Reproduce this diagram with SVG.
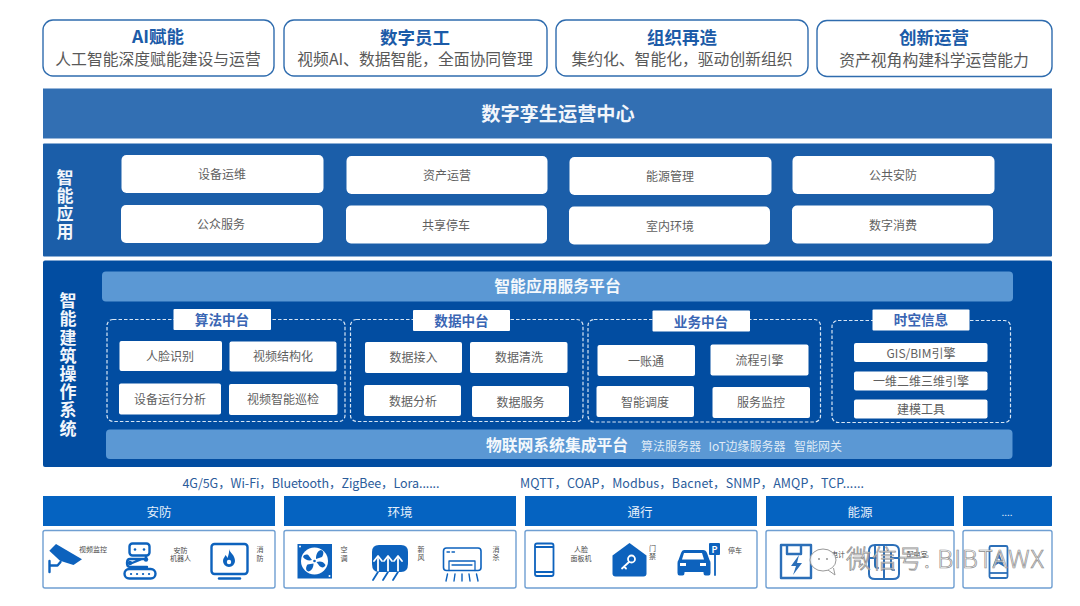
<svg xmlns="http://www.w3.org/2000/svg" width="1080" height="606" viewBox="0 0 1080 606">
<defs>
<style>
text{font-family:"Noto Sans CJK SC","Noto Sans",sans-serif;text-anchor:middle;dominant-baseline:central;transform:translateY(-1px)}
.top{fill:#fff;stroke:#2f6cae;stroke-width:1.4}
.tt{font-size:17.5px;font-weight:700;fill:#1b5ba8}
.ts{font-size:15.8px;fill:#595959}
.tile{fill:#fff}
.t1{font-size:12px;fill:#5f5f5f}
.dash{fill:none;stroke:#d8e6f5;stroke-width:1.2;stroke-dasharray:3.5 2}
.lab{font-size:13.6px;font-weight:700;fill:#3a66b4}
.bar{fill:#5b98d4}
.bt{font-size:15.8px;font-weight:700;fill:#f4f8fc}
.bs{font-size:12px;fill:#dfeaf6}
.vt{font-size:17px;font-weight:700;fill:#f2f6fb;writing-mode:vertical-rl;letter-spacing:1.2px;transform:none}
.pr{font-size:12.5px;fill:#2b5c9b}
.hd{fill:#0563c1}
.ht{font-size:12.5px;fill:#e6effa}
.box{fill:#fff;stroke:#6f9fd2;stroke-width:1.4}
.sm{font-size:7px;fill:#4a4a4a}
.ib{fill:#0d62bd}
.il{fill:none;stroke:#0d62bd;stroke-width:2.4;stroke-linecap:round;stroke-linejoin:round}
.iw{fill:none;stroke:#fff;stroke-width:1.8;stroke-linecap:round;stroke-linejoin:round}
</style>
</defs>
<rect width="1080" height="606" fill="#fff"/>

<g id="top-ai"><rect class="top" x="43" y="20" width="231" height="56" rx="10"/><text class="tt" x="158" y="36.5">AI赋能</text><text class="ts" x="158" y="59">人工智能深度赋能建设与运营</text></g>
<g id="top-staff"><rect class="top" x="284" y="20" width="263" height="56" rx="10"/><text class="tt" x="415" y="37">数字员工</text><text class="ts" x="415" y="59">视频AI、数据智能，全面协同管理</text></g>
<g id="top-org"><rect class="top" x="556" y="20" width="252" height="56" rx="10"/><text class="tt" x="682" y="37">组织再造</text><text class="ts" x="682" y="59">集约化、智能化，驱动创新组织</text></g>
<g id="top-ops"><rect class="top" x="817" y="20.500" width="235" height="56" rx="10"/><text class="tt" x="934" y="37">创新运营</text><text class="ts" x="934" y="60">资产视角构建科学运营能力</text></g>

<g id="twin"><rect x="43" y="88.500" width="1009" height="50" fill="#326fb3"/><text x="558" y="114" font-size="19.2" font-weight="700" fill="#f2f6fb">数字孪生运营中心</text></g>

<g id="apps"><rect x="43" y="143.500" width="1009" height="113" rx="1" fill="#1b5ea9"/>
<text class="vt" x="65" y="205">智能应用</text>
<g id="app-1"><rect class="tile" x="121.500" y="155" width="202" height="38" rx="5"/><text class="t1" x="222" y="174">设备运维</text></g>
<g id="app-2"><rect class="tile" x="346.500" y="156" width="201" height="38" rx="5"/><text class="t1" x="447" y="175">资产运营</text></g>
<g id="app-3"><rect class="tile" x="569.500" y="157" width="202" height="38" rx="5"/><text class="t1" x="670" y="176">能源管理</text></g>
<g id="app-4"><rect class="tile" x="792.500" y="156" width="202" height="38" rx="5"/><text class="t1" x="893" y="175">公共安防</text></g>
<g id="app-5"><rect class="tile" x="121" y="205" width="202" height="38" rx="5"/><text class="t1" x="221" y="224">公众服务</text></g>
<g id="app-6"><rect class="tile" x="346" y="205.500" width="201" height="38" rx="5"/><text class="t1" x="446" y="225">共享停车</text></g>
<g id="app-7"><rect class="tile" x="569" y="206.500" width="201" height="38" rx="5"/><text class="t1" x="670" y="226">室内环境</text></g>
<g id="app-8"><rect class="tile" x="792" y="205.500" width="201" height="38" rx="5"/><text class="t1" x="893" y="225">数字消费</text></g>
</g>

<g id="os"><rect x="43" y="260.500" width="1009" height="206.500" rx="2" fill="#024da1"/>
<text class="vt" x="68" y="365">智能建筑操作系统</text>
<g id="service-platform"><rect class="bar" x="102" y="271.500" width="911" height="30" rx="4"/><text class="bt" x="557.500" y="286">智能应用服务平台</text></g>
<g id="iot-platform"><rect class="bar" x="106" y="429.500" width="906.500" height="29.500" rx="4"/><text class="bt" x="557" y="445">物联网系统集成平台</text><text class="bs" x="671" y="446">算法服务器</text><text class="bs" x="747" y="446">IoT边缘服务器</text><text class="bs" x="818" y="446">智能网关</text></g>

<g id="algo"><rect class="dash" x="107" y="319.500" width="238" height="102" rx="6"/>
<rect class="tile" x="173.500" y="309" width="97.500" height="21" rx="1"/><text class="lab" x="222" y="320">算法中台</text>
<rect class="tile" x="119.500" y="341" width="102.500" height="30" rx="2"/><text class="t1" x="170" y="356">人脸识别</text>
<rect class="tile" x="229.500" y="341.500" width="107" height="30" rx="2"/><text class="t1" x="283" y="356.500">视频结构化</text>
<rect class="tile" x="119" y="383.500" width="102" height="31" rx="2"/><text class="t1" x="170" y="399">设备运行分析</text>
<rect class="tile" x="229" y="384" width="108.500" height="31" rx="2"/><text class="t1" x="283" y="399.500">视频智能巡检</text></g>

<g id="data"><rect class="dash" x="350.500" y="319.500" width="232.500" height="102" rx="6"/>
<rect class="tile" x="413" y="310" width="97" height="21" rx="1"/><text class="lab" x="461.500" y="321">数据中台</text>
<rect class="tile" x="365" y="342" width="97" height="31" rx="2"/><text class="t1" x="413.500" y="357.500">数据接入</text>
<rect class="tile" x="470" y="342" width="97.500" height="31" rx="2"/><text class="t1" x="519" y="357.500">数据清洗</text>
<rect class="tile" x="364" y="385" width="97" height="31" rx="2"/><text class="t1" x="413" y="401">数据分析</text>
<rect class="tile" x="472" y="386" width="97" height="31" rx="2"/><text class="t1" x="520.500" y="402">数据服务</text></g>

<g id="biz"><rect class="dash" x="588" y="319.500" width="232.500" height="102.500" rx="6"/>
<rect class="tile" x="652.500" y="310.500" width="97.500" height="21" rx="1"/><text class="lab" x="701" y="321.500">业务中台</text>
<rect class="tile" x="597.500" y="345" width="97.500" height="31" rx="2"/><text class="t1" x="646" y="361">一账通</text>
<rect class="tile" x="710.500" y="344.500" width="98" height="31" rx="2"/><text class="t1" x="759.500" y="360">流程引擎</text>
<rect class="tile" x="596.500" y="386" width="97.500" height="31" rx="2"/><text class="t1" x="645" y="402">智能调度</text>
<rect class="tile" x="712.500" y="387" width="97.500" height="31" rx="2"/><text class="t1" x="761" y="402.500">服务监控</text></g>

<g id="space"><rect class="dash" x="832" y="320.500" width="178.500" height="102" rx="6"/>
<rect class="tile" x="872.500" y="309.500" width="97" height="21" rx="1"/><text class="lab" x="921" y="320">时空信息</text>
<rect class="tile" x="854" y="343" width="133.500" height="19" rx="2"/><text class="t1" x="921" y="353">GIS/BIM引擎</text>
<rect class="tile" x="854" y="371.500" width="133.500" height="19" rx="2"/><text class="t1" x="921" y="381.500">一维二维三维引擎</text>
<rect class="tile" x="854" y="399.500" width="133.500" height="19" rx="2"/><text class="t1" x="921" y="409.500">建模工具</text></g>
</g>

<g id="protocols">
<text class="pr" x="311" y="483" textLength="257" lengthAdjust="spacing">4G/5G，Wi-Fi，Bluetooth，ZigBee，Lora......</text>
<text class="pr" x="692" y="483" textLength="344" lengthAdjust="spacing">MQTT，COAP，Modbus，Bacnet，SNMP，AMQP，TCP......</text>
</g>

<g id="security"><rect class="hd" x="43" y="496" width="232" height="30"/><text class="ht" x="159" y="512">安防</text><rect class="box" x="43" y="530.500" width="232" height="57.500" rx="2"/>
<path class="ib" d="M49.300 550.700L56 544l26 15.300-8.500 5.700-13.500-4.300z"/><path class="il" d="M49.500 561v11M50 565.500h7.500l3-3.500"/>
<text class="sm" x="93" y="550">视频监控</text>
<rect class="il" x="129.500" y="543.500" width="20" height="12" rx="3"/><circle class="ib" cx="135" cy="549.500" r="1.300"/><circle class="ib" cx="144" cy="549.500" r="1.300"/>
<path class="il" d="M146 556v3h-16q-3 0-3 4t3 4h17M132 563l10-4"/><circle class="ib" cx="130" cy="563" r="2.200"/><circle class="ib" cx="146" cy="559.500" r="2.200"/>
<rect class="il" x="124.500" y="569" width="31" height="9.500" rx="4.700"/><path d="M131 574h.1M137 574h.1M143 574h.1M149 574h.1" stroke="#0d62bd" stroke-width="2.200" stroke-linecap="round"/>
<text class="sm" x="180.500" y="550.500">安防</text><text class="sm" x="180.500" y="559">机器人</text>
<rect class="il" x="211.500" y="544" width="36" height="30" rx="3"/><path class="il" d="M219 578.500h21"/>
<path class="ib" d="M229 549c1 4 6 6 6 12a6 6 0 0 1-12 0c0-3 2-4 2.500-6 1 1 1.500 2 2 3 1-3 2-6 1.500-9z"/><circle cx="229" cy="562" r="2.200" fill="#fff"/>
<text class="sm" x="260" y="550">消</text><text class="sm" x="260" y="559">防</text></g>

<g id="environment"><rect class="hd" x="284" y="496" width="232" height="30"/><text class="ht" x="400" y="512">环境</text><rect class="box" x="284" y="530.500" width="232" height="57.500" rx="2"/>
<rect class="ib" x="297.500" y="544" width="34.500" height="34.500"/><circle cx="314.500" cy="561" r="13.500" fill="#fff"/>
<path class="ib" d="M316 559c0-4 1-8 5-9 3 1 3 4 1 7zM316.500 562c3-1 7-1 9 3-1 3-4 3-6 1zM313.500 563.500c0 3-1 7-5 8-3-1-3-4-1-7zM312 560c-3 1-7 0-9-3 1-3 5-3 6-1z"/>
<circle cx="314.500" cy="561" r="1.300" class="ib"/><circle cx="300" cy="546.500" r="1" fill="#fff"/><circle cx="329.500" cy="576" r="1" fill="#fff"/>
<text class="sm" x="344" y="550">空</text><text class="sm" x="344" y="559">调</text>
<path class="ib" d="M379 545h22q7 0 7 7v12q0 8-7 8h-22q-7 0-7-8v-12q0-7 7-7z"/>
<path class="iw" d="M378 572v-13M374 561l4-5 4 5M388 572v-13M384 561l4-5 4 5M398 572v-13M394 561l4-5 4 5"/>
<path class="il" style="stroke-width:1.800" d="M378 572l-5 8M388 572l-5 8M398 572l-5 8"/>
<text class="sm" x="421" y="549.500">新</text><text class="sm" x="421" y="558">风</text>
<rect class="il" style="stroke-width:1.600" x="443.500" y="548" width="37.500" height="22.500" rx="3"/><path class="il" style="stroke-width:1.300" d="M449 561h26v9.500M449 561v9.500M452 565h20M447 552h2.500M452 552h2.500"/>
<path class="il" style="stroke-width:1.400" d="M446 581l1.500-7M454 581l1-7M462 581v-7M470 581l-1-7M478 581l-1.500-7"/>
<text class="sm" x="496" y="549.500">消</text><text class="sm" x="496" y="558">杀</text></g>

<g id="access"><rect class="hd" x="525" y="496" width="232" height="30"/><text class="ht" x="640" y="512">通行</text><rect class="box" x="525" y="530.500" width="232" height="57.500" rx="2"/>
<rect class="il" style="stroke-width:1.800" x="535" y="543.500" width="18.500" height="32.500" rx="2"/><path d="M535 547h18.500M535 572h18.500" stroke="#0d62bd" stroke-width="1.800"/>
<text class="sm" x="581" y="550">人脸</text><text class="sm" x="581" y="558.500">面板机</text>
<path class="ib" d="M629.500 543l17 12.500v18q0 3-3 3h-28q-3 0-3-3v-18z"/><circle class="iw" cx="631.500" cy="559" r="3.500"/><path class="iw" d="M629 562l-7 6.500M624 566.500l2 2"/>
<text class="sm" x="652.500" y="548.500">门</text><text class="sm" x="652.500" y="557">禁</text>
<path class="ib" d="M683 550h20q3 0 4 3l2.500 7q1 1 1 3v10q0 2.500-2 2.500h-3q-2 0-2-2.500v-1h-19v1q0 2.500-2 2.500h-3q-2 0-2-2.500v-10q0-2 1-3l2.500-7q1-3 3-3z"/><path d="M684 553h18l2 6.500h-22z" fill="#fff"/><rect x="680" y="563" width="6" height="3" fill="#fff"/><rect x="700" y="563" width="6" height="3" fill="#fff"/>
<rect class="ib" x="709" y="543" width="11" height="12" rx="1"/><text x="714.500" y="550" font-size="9" font-weight="700" fill="#fff">P</text><path class="il" style="stroke-width:1.800" d="M715 555v20"/>
<text class="sm" x="735" y="550.500">停车</text></g>

<g id="energy"><rect class="hd" x="766" y="496" width="188" height="30"/><text class="ht" x="860" y="512">能源</text><rect class="box" x="766" y="530.500" width="188" height="57.500" rx="2"/>
<path class="il" style="stroke:#2c6fb8" d="M781 545h30v33h-30zM787 545v9h14v-9"/><path d="M799 555l-8 11h5l-3 9 9-12h-5z" fill="#2c6fb8"/>
<text class="sm" x="838" y="555">电计</text>
<path class="il" style="stroke:#2c6fb8;stroke-width:2" d="M869 551q0-6 6-6h18q6 0 6 6v23q0 5-6 5h-18q-6 0-6-5zM875 545v20q0 3 3 3M884 545v34M891 552v15q0 3 3 3M869 558h7M891 558h8"/>
<text class="sm" x="917" y="555">配电室</text></g>

<g id="more"><rect class="hd" x="963" y="496" width="89" height="30"/><text x="1007" y="512" font-size="10" fill="#e6effa">....</text><rect class="box" x="963" y="530.500" width="89" height="57.500" rx="2"/>
<rect class="il" style="stroke:#2c6fb8;stroke-width:1.800" x="989.500" y="546" width="18" height="32" rx="1.500"/><path d="M989.500 573h18" stroke="#2c6fb8" stroke-width="1.800"/><path d="M998.500 552l-6 15 6-3.500 6 3.500z" fill="#2c6fb8"/><circle cx="998.500" cy="560" r="1.500" fill="#fff"/></g>

<g id="watermark">
<ellipse cx="823" cy="560" rx="13" ry="11" fill="#fff" fill-opacity=".9" stroke="#999" stroke-width="1"/>
<path d="M828 570l7 5-1.500-7" fill="#fff" stroke="#999" stroke-width="1"/>
<circle cx="819" cy="559" r=".9" fill="#888"/><circle cx="827" cy="559" r=".9" fill="#888"/>
<text x="945" y="558" font-size="25" textLength="198" lengthAdjust="spacing" style="font-weight:300" fill="#fff" fill-opacity=".75" stroke="#8a8a8a" stroke-width=".7">微信号: BIBTAWX</text>
</g>
</svg>
